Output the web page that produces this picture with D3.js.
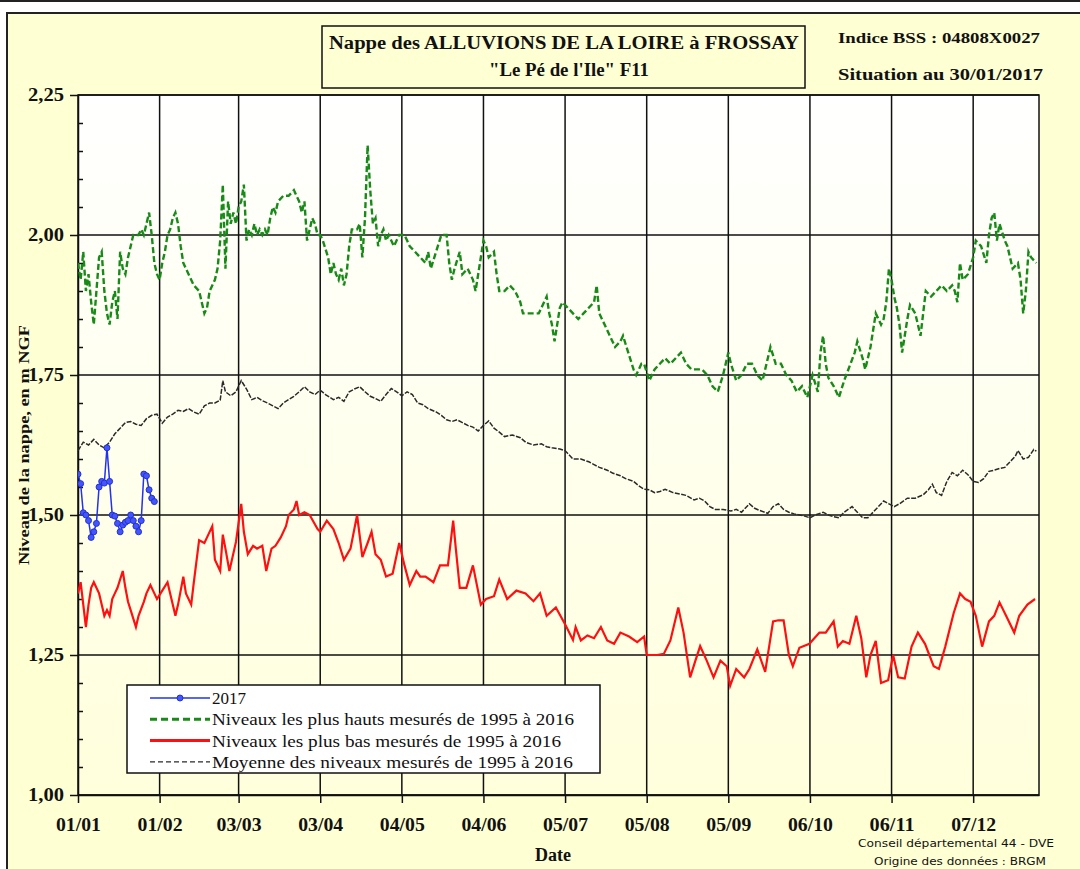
<!DOCTYPE html>
<html>
<head>
<meta charset="utf-8">
<script src="https://cdn.jsdelivr.net/npm/d3@7/dist/d3.min.js"></script>
<style>
  body { margin: 0; background: #fff; }
  text { font-family: "Liberation Serif", "Times New Roman", serif; }
</style>
</head>
<body>
<svg id="chart" width="1080" height="869"></svg>
<script>
// axes
var tickDays = [0, 31, 61, 92, 123, 154, 185, 216, 247, 278, 309, 340];
var tickLabels = ["01/01", "01/02", "03/03", "03/04", "04/05", "04/06", "05/07", "05/08", "05/09", "06/10", "06/11", "07/12"];
var yMajor = [1.00, 1.25, 1.50, 1.75, 2.00, 2.25];

// series : [jour de l'annee, niveau m NGF]
var serie2017 = [[0,1.573],[1,1.556],[2,1.504],[3,1.50],[4,1.49],[5,1.46],[6,1.47],[7,1.485],[8,1.55],[9,1.56],[10,1.557],
  [11,1.62],[12,1.56],[13,1.50],[14,1.498],[15,1.485],[16,1.47],[17,1.482],[18,1.487],[19,1.49],[20,1.50],[21,1.49],
  [22,1.48],[23,1.47],[24,1.49],[25,1.573],[26,1.57],[27,1.545],[28,1.53],[29,1.524]];

var serieHaut = [[0,1.95],[1,1.92],[2,1.97],[3,1.90],[4,1.93],[5,1.88],[6,1.84],[7,1.90],[8,1.96],[9,1.97],[10,1.90],
  [11,1.86],[12,1.84],[13,1.88],[14,1.90],[15,1.85],[16,1.97],[17,1.94],[18,1.93],[19,1.96],[20,1.98],[21,2.00],[22,2.00],
  [23,2.00],[24,2.01],[25,2.00],[26,2.02],[27,2.04],[28,2.00],[29,1.95],[30,1.93],[31,1.92],[32,1.95],[33,1.97],[34,2.00],
  [35,2.01],[36,2.03],[37,2.04],[38,2.02],[39,1.98],[40,1.95],[41,1.94],[42,1.93],[44,1.91],[46,1.90],[47,1.88],[48,1.86],
  [49,1.87],[50,1.90],[51,1.91],[52,1.92],[53,1.94],[54,1.99],[55,2.09],[56,1.94],[57,2.06],[58,2.02],[59,2.04],[60,2.02],
  [61,2.05],[62,2.06],[63,2.09],[64,1.99],[65,2.01],[66,2.00],[67,2.02],[68,2.00],[69,2.01],[70,2.00],[71,2.01],[72,2.00],
  [73,2.03],[74,2.05],[75,2.04],[76,2.06],[78,2.07],[80,2.07],[82,2.08],[84,2.06],[85,2.04],[86,2.06],[87,1.99],[88,2.01],
  [89,2.03],[90,2.02],[91,2.00],[92,2.00],[93,1.99],[95,1.96],[96,1.93],[97,1.95],[98,1.93],[99,1.92],[100,1.94],[101,1.91],
  [102,1.93],[103,1.98],[104,2.01],[105,2.01],[106,2.01],[107,2.02],[108,1.96],[109,2.03],[110,2.16],[111,2.08],[112,2.02],
  [113,2.03],[114,1.98],[115,2.00],[116,2.01],[117,1.99],[118,2.00],[120,1.98],[121,1.99],[122,2.00],[124,2.00],[125,1.99],
  [126,1.98],[128,1.97],[130,1.96],[132,1.95],[133,1.97],[134,1.94],[136,1.97],[138,2.00],[140,2.00],[141,1.95],[142,1.92],
  [143,1.94],[145,1.97],[146,1.93],[148,1.94],[150,1.92],[151,1.90],[152,1.93],[154,1.99],[155,1.98],[156,1.96],[158,1.97],
  [159,1.93],[160,1.90],[162,1.90],[164,1.91],[166,1.90],[168,1.88],[169,1.86],[172,1.86],[175,1.86],[177,1.88],[178,1.89],
  [179,1.86],[180,1.84],[181,1.81],[182,1.84],[183,1.87],[184,1.88],[186,1.87],[188,1.86],[190,1.85],[192,1.86],[194,1.87],
  [196,1.88],[197,1.91],[198,1.86],[200,1.84],[202,1.82],[204,1.80],[206,1.81],[207,1.82],[209,1.79],[211,1.76],[212,1.75],
  [214,1.77],[215,1.77],[217,1.74],[219,1.76],[221,1.77],[223,1.78],[225,1.77],[227,1.78],[229,1.79],[231,1.77],[233,1.76],
  [235,1.76],[237,1.76],[239,1.75],[241,1.73],[243,1.72],[245,1.75],[247,1.79],[248,1.77],[250,1.74],[252,1.75],[254,1.77],
  [256,1.77],[258,1.75],[260,1.74],[262,1.78],[263,1.80],[265,1.77],[267,1.77],[269,1.75],[271,1.74],[273,1.72],[275,1.73],
  [277,1.71],[279,1.75],[281,1.72],[282,1.79],[283,1.82],[284,1.77],[285,1.745],[287,1.73],[289,1.71],[291,1.74],[293,1.765],
  [295,1.79],[296,1.81],[298,1.78],[299,1.76],[301,1.80],[303,1.86],[305,1.84],[306,1.85],[307,1.88],[308,1.94],[309,1.92],
  [310,1.89],[311,1.87],[312,1.84],[313,1.79],[315,1.85],[316,1.875],[318,1.86],[320,1.82],[322,1.90],[324,1.89],[326,1.90],
  [328,1.91],[330,1.90],[332,1.91],[333,1.90],[334,1.88],[335,1.95],[336,1.92],[338,1.93],[340,1.96],[341,1.99],[343,1.98],
  [345,1.95],[346,2.00],[347,2.03],[348,2.04],[349,1.99],[350,2.02],[352,1.99],[353,1.98],[355,1.94],[357,1.95],[358,1.92],
  [359,1.86],[360,1.90],[361,1.97],[362,1.96],[364,1.95]];

var serieBas = [[0,1.36],[1,1.38],[3,1.30],[4,1.34],[5,1.37],[6,1.38],[7,1.37],[8,1.36],[9,1.34],[10,1.32],[11,1.33],[12,1.32],
  [13,1.35],[14,1.36],[15,1.37],[17,1.40],[18,1.37],[19,1.345],[20,1.33],[22,1.30],[23,1.32],[25,1.345],[26,1.36],[27.5,1.375],
  [29,1.36],[30,1.35],[32,1.365],[34,1.38],[35,1.36],[37,1.32],[38,1.34],[40,1.39],[41,1.36],[43,1.34],[44,1.38],[46,1.455],
  [48,1.45],[49.5,1.465],[51,1.48],[52,1.42],[54,1.40],[55,1.465],[56,1.44],[57.5,1.40],[60,1.452],[62,1.52],[63,1.47],
  [64.5,1.43],[66.5,1.445],[68,1.44],[70,1.445],[71.5,1.40],[73.5,1.44],[75,1.445],[77,1.46],[79,1.48],[80,1.50],[82,1.51],
  [83,1.525],[84,1.50],[86,1.505],[88,1.50],[91,1.475],[92,1.47],[94.5,1.49],[97,1.475],[99,1.45],[101,1.42],[103.5,1.44],
  [106,1.50],[108,1.425],[110,1.45],[111.5,1.47],[113,1.43],[115,1.42],[117,1.39],[119.5,1.395],[122,1.45],[124,1.41],
  [126,1.375],[128.5,1.40],[130,1.39],[132,1.39],[135,1.38],[137.5,1.41],[140.5,1.41],[142.5,1.49],[143.5,1.44],[145,1.37],
  [147.5,1.37],[150,1.41],[153,1.34],[155,1.35],[158,1.355],[160,1.385],[163,1.35],[166.5,1.365],[170,1.36],[173,1.346],
  [175.5,1.36],[178,1.32],[181.5,1.335],[185,1.305],[188,1.277],[189,1.30],[191,1.276],[193.5,1.285],[196,1.28],[198.6,1.30],
  [201,1.276],[203.6,1.27],[206,1.29],[209.3,1.283],[212.4,1.273],[215,1.283],[216,1.25],[218,1.25],[220,1.25],[222.5,1.252],
  [225,1.276],[228,1.335],[230,1.29],[232.5,1.21],[234.5,1.24],[236.3,1.266],[238.8,1.24],[241.4,1.21],[244,1.24],[246.4,1.23],
  [247.7,1.195],[250,1.225],[253,1.21],[255,1.225],[258,1.26],[261,1.22],[264,1.31],[266,1.312],[268,1.312],[270,1.25],
  [271.5,1.23],[274,1.263],[277.8,1.27],[281.6,1.29],[284,1.29],[287,1.31],[288.6,1.265],[290.5,1.275],[293,1.27],[295.6,1.32],
  [297.5,1.28],[299.4,1.21],[301,1.25],[303,1.275],[305,1.20],[307.7,1.205],[309.6,1.25],[311.5,1.21],[314,1.208],[316.6,1.265],
  [319,1.29],[321.7,1.27],[325,1.23],[327,1.225],[329.4,1.265],[332.6,1.325],[335,1.36],[337,1.35],[339,1.345],[341,1.32],
  [343.4,1.265],[346,1.31],[348,1.32],[350,1.344],[352.5,1.32],[355.6,1.29],[357.5,1.32],[360.6,1.34],[363.5,1.35]];

var serieMoyenne = [[0,1.615],[2,1.63],[4,1.625],[6,1.635],[8,1.625],[10,1.62],[12,1.63],[14,1.645],[16,1.655],[18,1.665],
  [20,1.667],[22,1.662],[24,1.66],[26,1.672],[28,1.678],[30,1.68],[32,1.664],[34,1.675],[36,1.68],[38,1.687],[40,1.685],
  [42,1.69],[44,1.684],[46,1.68],[48,1.695],[50,1.70],[52,1.70],[54,1.705],[55,1.74],[56,1.72],[58,1.713],[60,1.72],[62,1.74],
  [64,1.725],[66,1.706],[68,1.71],[70,1.704],[72,1.70],[74,1.695],[76,1.69],[78,1.70],[80,1.706],[82,1.712],[84,1.72],
  [86,1.729],[88,1.72],[90,1.715],[92,1.723],[94,1.715],[97,1.706],[99,1.71],[101,1.703],[103,1.72],[105,1.725],[107,1.729],
  [109,1.72],[111,1.712],[113,1.708],[115,1.703],[117,1.715],[119,1.726],[121,1.72],[123,1.713],[125,1.72],[127,1.715],
  [129,1.70],[131,1.697],[133,1.69],[136,1.684],[138,1.678],[140,1.67],[142,1.667],[144,1.67],[146,1.665],[148,1.66],
  [150,1.657],[152,1.65],[154,1.66],[156,1.668],[158,1.655],[160,1.648],[162,1.64],[165,1.643],[168,1.638],[170,1.63],
  [173,1.625],[176,1.627],[178,1.622],[180,1.62],[183,1.618],[185,1.615],[188,1.60],[191,1.60],[194,1.595],[196,1.59],
  [198,1.585],[201,1.58],[203,1.575],[206,1.57],[208,1.565],[211,1.56],[213,1.552],[215,1.546],[217,1.545],[219,1.54],
  [221,1.542],[223,1.546],[226,1.54],[229,1.537],[231,1.535],[234,1.527],[236,1.53],[238,1.525],[240,1.515],[242,1.51],
  [245,1.51],[248,1.507],[250,1.51],[252,1.505],[255,1.52],[257,1.512],[259,1.508],[262,1.503],[264,1.515],[266,1.52],
  [268,1.51],[270,1.505],[272,1.502],[274,1.50],[276,1.498],[278,1.495],[280,1.50],[283,1.505],[285,1.50],[287,1.497],
  [289,1.495],[291,1.505],[294,1.515],[296,1.505],[298,1.495],[300,1.495],[302,1.505],[304,1.515],[306,1.525],[308,1.52],
  [310,1.515],[312,1.52],[315,1.53],[318,1.53],[321,1.536],[323,1.545],[324.5,1.555],[326,1.54],[328,1.535],[330,1.56],
  [332,1.576],[334,1.57],[336,1.58],[338,1.572],[340,1.56],[342,1.558],[344,1.565],[346,1.578],[348,1.58],[350,1.583],
  [352,1.585],[354,1.595],[356,1.605],[357,1.615],[359,1.60],[361,1.603],[363,1.617],[364,1.614]];

var legendLabels = ["2017", "Niveaux les plus hauts mesurés de 1995 à 2016",
  "Niveaux les plus bas mesurés de 1995 à 2016", "Moyenne des niveaux mesurés de 1995 à 2016"];

var svg = d3.select("#chart");
var x = d3.scaleLinear().domain([0, 365]).range([78, 1039]);
var y = d3.scaleLinear().domain([1, 2.25]).range([795, 95]);

// fond jaune + cadre
svg.append("rect").attr("width", 1080).attr("height", 869).attr("fill", "#fff");
svg.append("line").attr("x1", 0).attr("x2", 1080).attr("y1", 1).attr("y2", 1).attr("stroke", "#222").attr("stroke-width", 2);
svg.append("rect").attr("x", 7).attr("y", 13).attr("width", 1090).attr("height", 870)
  .attr("fill", "#ffffd4").attr("stroke", "#222").attr("stroke-width", 2);

var grad = svg.append("defs").append("linearGradient").attr("id", "fondPlot")
  .attr("x1", 0).attr("y1", 0).attr("x2", 0).attr("y2", 1);
grad.append("stop").attr("offset", 0).attr("stop-color", "#ffffff");
grad.append("stop").attr("offset", 1).attr("stop-color", "#ffffdc");
svg.select("defs").append("clipPath").attr("id", "clipPlot").append("rect")
  .attr("x", x(0)).attr("y", y(2.25)).attr("width", x(365) - x(0)).attr("height", y(1) - y(2.25));

svg.append("rect").attr("x", x(0)).attr("y", y(2.25)).attr("width", x(365) - x(0)).attr("height", y(1) - y(2.25))
  .attr("fill", "url(#fondPlot)");

// grille
var grid = svg.append("g").attr("stroke", "#111").attr("stroke-width", 1.5);
grid.selectAll(".gh").data(yMajor).join("line")
  .attr("x1", x(0)).attr("x2", x(365)).attr("y1", d => y(d)).attr("y2", d => y(d));
grid.selectAll(".gv").data(tickDays.slice(1)).join("line")
  .attr("x1", d => x(d)).attr("x2", d => x(d)).attr("y1", y(1)).attr("y2", y(2.25));

// titre
svg.append("rect").attr("x", 322).attr("y", 26).attr("width", 483).attr("height", 62)
  .attr("fill", "#ffffd4").attr("stroke", "#111").attr("stroke-width", 1.5);
function txt(s, px, py, size, opts) {
  opts = opts || {};
  var t = svg.append("text").attr("x", px).attr("y", py).attr("font-size", size)
    .attr("font-weight", opts.weight || "bold").attr("text-anchor", opts.anchor || "start")
    .attr("fill", "#111").text(s);
  if (opts.len) t.attr("textLength", opts.len).attr("lengthAdjust", "spacingAndGlyphs");
  if (opts.family) t.style("font-family", opts.family);
  return t;
}
txt("Nappe des ALLUVIONS DE LA LOIRE à FROSSAY", 564, 49, 18, {anchor: "middle", len: 470});
txt("\"Le Pé de l'Ile\" F11", 569, 76, 18, {anchor: "middle", len: 160});
txt("Indice BSS : 04808X0027", 838, 43, 15, {len: 202});
txt("Situation au 30/01/2017", 838, 80, 17, {len: 205});

// axe Y
var yAxis = svg.append("g").attr("transform", "translate(" + x(0) + ",0)")
  .call(d3.axisLeft(y).tickValues(yMajor).tickSize(8).tickSizeOuter(0).tickPadding(6)
    .tickFormat(d => d3.format(".2f")(d).replace(".", ",")));
yAxis.select(".domain").attr("stroke", "#111").attr("stroke-width", 1.5);
yAxis.selectAll(".tick line").attr("stroke", "#111").attr("stroke-width", 1.5);
yAxis.selectAll(".tick text").attr("font-size", 18).attr("font-weight", "bold").attr("fill", "#111")
  .style("font-family", "Liberation Serif").attr("textLength", 36).attr("lengthAdjust", "spacingAndGlyphs");

var yMinor = d3.range(1.05, 2.25, 0.05).filter(v => Math.abs(v * 4 - Math.round(v * 4)) > 0.01);
var yMin = svg.append("g").attr("transform", "translate(" + x(0) + ",0)")
  .call(d3.axisRight(y).tickValues(yMinor).tickSize(5).tickSizeOuter(0).tickFormat(""));
yMin.select(".domain").remove();
yMin.selectAll(".tick line").attr("stroke", "#111").attr("stroke-width", 1.5);

// axe X
var xAxis = svg.append("g").attr("transform", "translate(0," + y(1) + ")")
  .call(d3.axisBottom(x).tickValues(tickDays).tickSize(8).tickSizeOuter(0).tickPadding(15)
    .tickFormat((d, i) => tickLabels[i]));
xAxis.select(".domain").attr("stroke", "#111").attr("stroke-width", 1.5);
xAxis.selectAll(".tick line").attr("stroke", "#111").attr("stroke-width", 1.5);
xAxis.selectAll(".tick text").attr("font-size", 18).attr("font-weight", "bold").attr("fill", "#111")
  .style("font-family", "Liberation Serif").attr("textLength", 45).attr("lengthAdjust", "spacingAndGlyphs");

// cadre du graphe
svg.append("rect").attr("x", x(0)).attr("y", y(2.25)).attr("width", x(365) - x(0)).attr("height", y(1) - y(2.25))
  .attr("fill", "none").attr("stroke", "#111").attr("stroke-width", 1.5);

txt("Date", 553, 861, 18, {anchor: "middle"});
txt("Niveau de la nappe, en m NGF", 0, 0, 15, {anchor: "middle", len: 240})
  .attr("transform", "translate(29,445) rotate(-90)");
txt("Conseil départemental 44 - DVE", 956, 847, 10, {anchor: "middle", weight: "normal", len: 196, family: "DejaVu Sans"});
txt("Origine des données : BRGM", 960, 865, 10, {anchor: "middle", weight: "normal", len: 172, family: "DejaVu Sans"});

// courbes
var line = d3.line().x(d => x(d[0])).y(d => y(d[1]));
var plot = svg.append("g").attr("clip-path", "url(#clipPlot)");

plot.append("path").datum(serieMoyenne).attr("d", line).attr("fill", "none")
  .attr("stroke", "#2a2a2a").attr("stroke-width", 1.5).attr("stroke-dasharray", "5,1.5");
plot.append("path").datum(serieHaut).attr("d", line).attr("fill", "none")
  .attr("stroke", "#178a17").attr("stroke-width", 2.4).attr("stroke-dasharray", "6,3");
plot.append("path").datum(serieBas).attr("d", line).attr("fill", "none")
  .attr("stroke", "#ff1010").attr("stroke-width", 2.2);
plot.append("path").datum(serie2017).attr("d", line).attr("fill", "none")
  .attr("stroke", "#2233ee").attr("stroke-width", 1.5);
plot.selectAll(".pt2017").data(serie2017).join("circle")
  .attr("cx", d => x(d[0])).attr("cy", d => y(d[1])).attr("r", 3)
  .attr("fill", "#4455ff").attr("stroke", "#2233cc").attr("stroke-width", 1);

// legende
var leg = svg.append("g");
leg.append("rect").attr("x", 127).attr("y", 685).attr("width", 473).attr("height", 88)
  .attr("fill", "#fff").attr("stroke", "#111").attr("stroke-width", 1.5);
var legStyles = [
  {stroke: "#2233ee", w: 1.5, dash: null},
  {stroke: "#178a17", w: 3, dash: "7,4"},
  {stroke: "#ff1010", w: 3, dash: null},
  {stroke: "#2a2a2a", w: 1.2, dash: "5,3"}
];
var legLens = [34, 362, 349, 361];
legendLabels.forEach(function(lab, i) {
  var cy = 698 + i * 21.3;
  var l = leg.append("line").attr("x1", 150).attr("x2", 210).attr("y1", cy).attr("y2", cy)
    .attr("stroke", legStyles[i].stroke).attr("stroke-width", legStyles[i].w);
  if (legStyles[i].dash) l.attr("stroke-dasharray", legStyles[i].dash);
  if (i == 0) leg.append("circle").attr("cx", 180).attr("cy", cy).attr("r", 3)
    .attr("fill", "#4455ff").attr("stroke", "#2233cc");
  leg.append("text").attr("x", 212).attr("y", cy + 6).attr("font-size", 17).attr("fill", "#111")
    .attr("textLength", legLens[i]).attr("lengthAdjust", "spacingAndGlyphs").text(lab);
});
</script>
</body>
</html>
